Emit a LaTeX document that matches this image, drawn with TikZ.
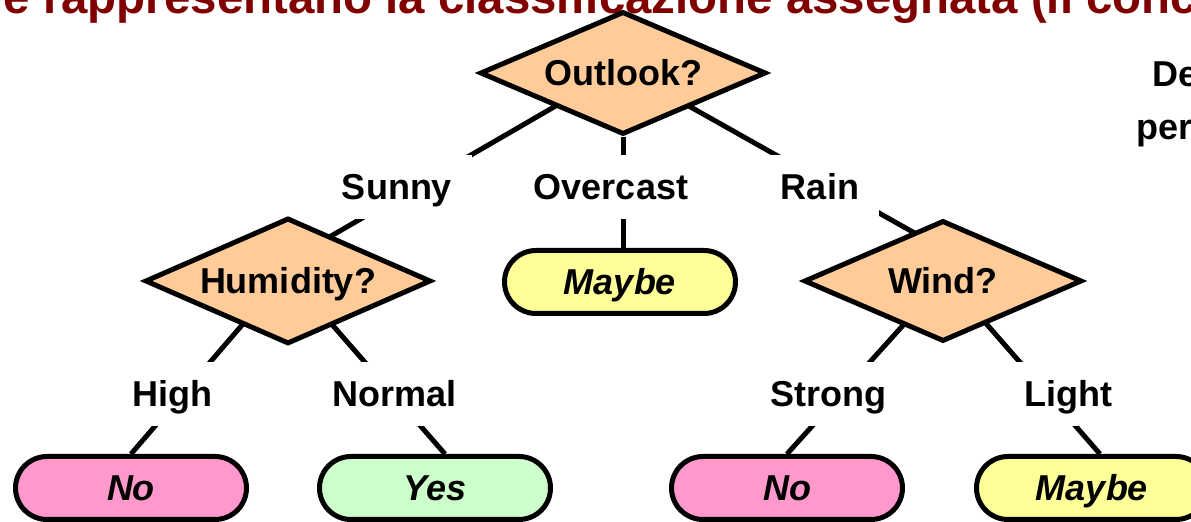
\documentclass[tikz,border=0pt]{standalone}
\usepackage{fontspec}
\setmainfont{Liberation Sans}
\usetikzlibrary{shapes.geometric,calc}
\pgfdeclarelayer{background}
\pgfsetlayers{background,main}
\definecolor{peach}{HTML}{FFCC99}
\definecolor{nopink}{HTML}{FF99CC}
\definecolor{yesgreen}{HTML}{CCFFCC}
\definecolor{maybeyellow}{HTML}{FFFF99}
\definecolor{titlered}{HTML}{800000}
\begin{document}
\begin{tikzpicture}[x=0.5pt,y=-0.5pt,
  every node/.style={font=\fontsize{18}{21}\selectfont\bfseries,
    text height=13pt, text depth=0pt, inner sep=0pt},
  test/.style={diamond, aspect=2.3, draw, line width=2.5pt, fill=peach,
    minimum width=143pt, minimum height=61.5pt},
  leaf/.style={rectangle, rounded corners=15.75pt, draw, line width=2.5pt,
    minimum width=115.5pt, minimum height=31.5pt,
    font=\fontsize{18}{21}\selectfont\bfseries\itshape},
  branch/.style={fill=white, inner xsep=10pt, minimum height=32pt},
  link/.style={line width=2.5pt}]
\clip (0,0) rectangle (1191,522);

% heading and side text, cut by the page edge
\node[anchor=base west, text=titlered, text height=, text depth=,
  font=\fontsize{23.7}{28}\selectfont\bfseries] (title) at (-52,14)
  {che rappresentano la classificazione assegnata (il conc};
\node[anchor=base west, text height=, text depth=] (de) at (1152,87) {De};
\node[anchor=base west, text height=, text depth=] (per) at (1136,140) {per};

% decision nodes
\node[test] (outlook) at (623,73) {Outlook?};
\node[test, minimum height=63pt] (humidity) at (288,281) {Humidity?};
\node[test, minimum width=139pt, minimum height=60.5pt] (wind) at (943,281) {Wind?};

% leaves
\node[leaf, fill=maybeyellow] (maybe1) at (620,282) {Maybe};
\node[leaf, fill=nopink] (no1) at (131,488) {No};
\node[leaf, fill=yesgreen] (yes) at (435,488) {Yes};
\node[leaf, fill=nopink] (no2) at (787,488) {No};
\node[leaf, fill=maybeyellow] (maybe2) at (1092,488) {Maybe};

% branch labels (white boxes break the connectors)
\node[branch] (sunny) at (397,187) {Sunny};
\node[branch] (overcast) at (611,187) {Overcast};
\node[branch] (rain) at (820,187) {Rain};
\node[branch] (high) at (172,394) {High};
\node[branch] (normal) at (395,394) {Normal};
\node[branch] (strong) at (828,394) {Strong};
\node[branch] (light) at (1068,394) {Light};

% connectors
\begin{pgfonlayer}{background}
\draw[link] ($(outlook.center)+(0,-6)$) -- ($(humidity.center)+(0,-20)$);
\draw[link] (outlook.south) -- (outlook.south |- maybe1.north);
\draw[link] ($(outlook.center)+(0,-4)$) -- ($(wind.center)+(0,-32)$);
\draw[link] ($(humidity.center)+(-8,0)$) -- (no1.north);
\draw[link] ($(humidity.center)+(6,0)$) -- ($(yes.north)+(10,0)$);
\draw[link] (wind.center) -- (no2.north);
\draw[link] ($(wind.center)+(6,0)$) -- ($(maybe2.north)+(8,0)$);
\end{pgfonlayer}
\end{tikzpicture}
\end{document}
